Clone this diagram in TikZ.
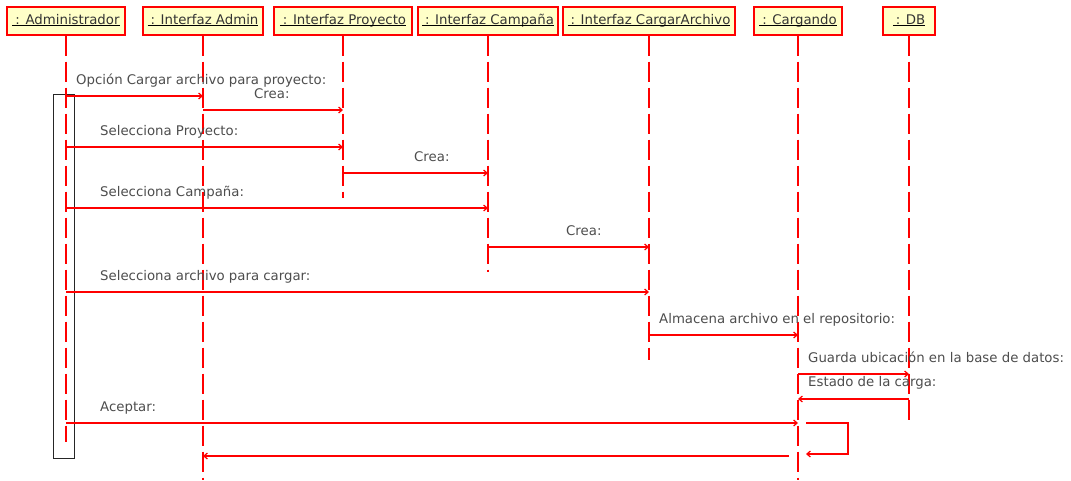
\documentclass[tikz,border=0pt]{standalone}
\usepackage{fontspec}
\setmainfont{DejaVu Sans}
% text colours are carried by the fonts themselves
\newfontfamily\msgfont{DejaVu Sans}[Color=4D4D4D]
\newfontfamily\objfont{DejaVu Sans}[Color=333333]
\usetikzlibrary{arrows.meta,calc}
\definecolor{objfill}{HTML}{FFFFC8}
\definecolor{umlred}{HTML}{FF0000}
% underlined object name, the rule kept at a fixed depth
\newcommand\objlabel[1]{\underline{\smash{\kern3pt #1}}}
\begin{document}
\begin{tikzpicture}[x=1pt,y=-1pt,
  font=\fontsize{13.3}{15}\selectfont,
  obj/.style={draw=umlred, line width=1.2pt, fill=objfill, font=\objfont\fontsize{13.3}{15}\selectfont,
    minimum height=28pt, inner sep=0pt, text height=9.5pt, text depth=3pt},
  lifeline/.style={draw=umlred, line width=1.2pt, dash pattern=on 20pt off 6pt},
  msg/.style={draw=umlred, line width=1.2pt, -{Straight Barb[length=3.5pt,width=6pt]}},
  msglabel/.style={anchor=base west, font=\msgfont\fontsize{13.3}{15}\selectfont, inner sep=0pt}
]
\useasboundingbox (0,0) rectangle (1071,480);

% objects
\node[obj, minimum width=118pt] (adm)  at (66,21)  {\objlabel{: Administrador}};
\node[obj, minimum width=120pt] (iadm) at (203,21) {\objlabel{: Interfaz Admin}};
\node[obj, minimum width=138pt] (ipro) at (343,21) {\objlabel{: Interfaz Proyecto}};
\node[obj, minimum width=140pt] (icam) at (488,21) {\objlabel{: Interfaz Campaña}};
\node[obj, minimum width=172pt] (icar) at (649,21) {\objlabel{: Interfaz CargarArchivo}};
\node[obj, minimum width=88pt]  (carg) at (798,21) {\objlabel{: Cargando}};
\node[obj, minimum width=52pt]  (db)   at (909,21) {\objlabel{: DB}};

% activation bar of the administrator
\node[draw=black!85, line width=1pt, minimum width=21pt, minimum height=364pt, inner sep=0pt] (act) at (63.5,276) {};

% lifelines
\draw[lifeline] (adm.south)  -- (adm.south |- 0,442);
\draw[lifeline] (iadm.south) -- (iadm.south |- 0,480);
\draw[lifeline] (ipro.south) -- (ipro.south |- 0,198);
\draw[lifeline] (icam.south) -- (icam.south |- 0,272);
\draw[lifeline] (icar.south) -- (icar.south |- 0,360);
\draw[lifeline] (carg.south) -- (carg.south |- 0,480);
\draw[lifeline] (db.south)   -- (db.south |- 0,424);

% messages
\node[msglabel] (m1) at (76,84) {Opción Cargar archivo para proyecto:};
\draw[msg] (adm |- 0,96) -- (iadm |- 0,96);

\node[msglabel] (m2) at (254,98) {Crea:};
\draw[msg] (iadm |- 0,110) -- (ipro |- 0,110);

\node[msglabel] (m3) at (100,135) {Selecciona Proyecto:};
\draw[msg] (adm |- 0,147) -- (ipro |- 0,147);

\node[msglabel] (m4) at (414,161) {Crea:};
\draw[msg] (ipro |- 0,173) -- (icam |- 0,173);

\node[msglabel] (m5) at (100,196) {Selecciona Campaña:};
\draw[msg] (adm |- 0,208) -- (icam |- 0,208);

\node[msglabel] (m6) at (566,235) {Crea:};
\draw[msg] (icam |- 0,247) -- (icar |- 0,247);

\node[msglabel] (m7) at (100,280) {Selecciona archivo para cargar:};
\draw[msg] (adm |- 0,292) -- (icar |- 0,292);

\node[msglabel] (m8) at (659,323) {Almacena archivo en el repositorio:};
\draw[msg] (icar |- 0,335) -- (carg |- 0,335);

\node[msglabel] (m9) at (808,362) {Guarda ubicación en la base de datos:};
\draw[msg] (carg |- 0,374) -- (db |- 0,374);

\node[msglabel] (m10) at (808,386) {Estado de la carga:};
\draw[msg] (db |- 0,399) -- (carg |- 0,399);

\node[msglabel] (m11) at (100,411) {Aceptar:};
\draw[msg] (adm |- 0,423) -- (carg |- 0,423);

% self call on Cargando and the reply to the admin interface
\draw[msg] ($(carg |- 0,423)+(8,0)$) -- ++(42,0) -- ++(0,31) -- ++(-42,0);
\draw[msg] ($(carg |- 0,456)+(-9,0)$) -- (iadm |- 0,456);
\end{tikzpicture}
\end{document}
